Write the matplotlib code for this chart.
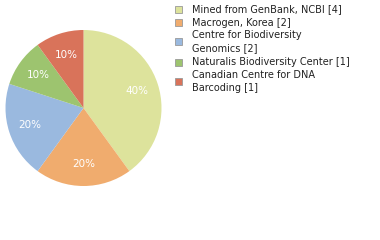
import matplotlib
matplotlib.use("Agg")
import matplotlib.pyplot as plt
from matplotlib.patches import Rectangle

labels = ["Mined from GenBank, NCBI [4]", "Macrogen, Korea [2]",
          "Centre for Biodiversity\nGenomics [2]", "Naturalis Biodiversity Center [1]",
          "Canadian Centre for DNA\nBarcoding [1]"]
counts = [4, 2, 2, 1, 1]
colors = ["#dde39c", "#f0ac6e", "#9ab9df", "#9dc46f", "#d9735a"]

fig = plt.figure(figsize=(3.8, 2.4), dpi=100)
fig.patch.set_facecolor("white")

# pie: centre ~ (83.5, 108) px, radius ~78 px
ax = fig.add_axes([(83.5 - 78) / 380, (240 - 108 - 78) / 240, 156 / 380, 156 / 240])
wedges, texts, autotexts = ax.pie(
    counts, colors=colors, startangle=90, counterclock=False,
    autopct=lambda p: f"{p:.0f}%", pctdistance=0.72,
    wedgeprops=dict(linewidth=0), radius=1.0)
for t in autotexts:
    t.set_color("white")
    t.set_fontsize(7.5)
ax.set_xlim(-1, 1)
ax.set_ylim(-1, 1)
ax.set_aspect("equal")

# legend drawn by hand to match the layout
lg = fig.add_axes([0, 0, 1, 1])
lg.axis("off")
lg.set_xlim(0, 380)
lg.set_ylim(240, 0)
rows = [9.5, 22.5, 41.5, 62, 81.5]
for lab, col, y in zip(labels, colors, rows):
    lg.add_patch(Rectangle((174.5, y - 3.5), 7, 7, facecolor=col,
                           edgecolor="#999999", linewidth=0.6))
    lg.text(192, y, lab, fontsize=7, va="center", ha="left", color="#222222",
            linespacing=1.3)

fig.savefig("out.png", dpi=100, facecolor="white")
